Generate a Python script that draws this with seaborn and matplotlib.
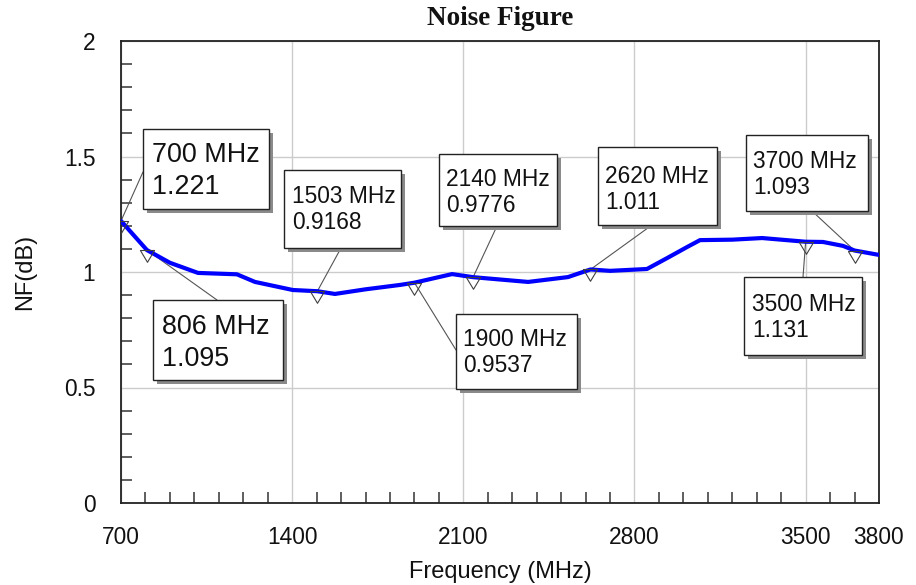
import matplotlib
matplotlib.use("Agg")
import matplotlib.pyplot as plt
import matplotlib.transforms as mtransforms
from matplotlib.patches import Rectangle
from matplotlib.path import Path
from matplotlib.ticker import MultipleLocator, FixedLocator
import seaborn as sns
import pandas as pd

# ---- data ----
freq_mhz = [700, 806, 900, 1015, 1174, 1248, 1403, 1503, 1575, 1700, 1841, 1900,
            2054, 2140, 2365, 2528, 2620, 2700, 2851, 2933, 3015, 3068, 3200,
            3322, 3500, 3571, 3653, 3700, 3800]
nf_db = [1.221, 1.095, 1.04, 0.996, 0.99, 0.957, 0.922, 0.9168, 0.905, 0.925,
         0.944, 0.9537, 0.991, 0.9776, 0.957, 0.978, 1.011, 1.005, 1.013, 1.06,
         1.108, 1.138, 1.14, 1.147, 1.131, 1.13, 1.113, 1.093, 1.074]

marker_freq = [700, 806, 1503, 1900, 2140, 2620, 3500, 3700]
marker_nf = [1.221, 1.095, 0.9168, 0.9537, 0.9776, 1.011, 1.131, 1.093]

x_tick_values = [700, 1400, 2100, 2800, 3500, 3800]
x_tick_labels = ["700", "1400", "2100", "2800", "3500", "3800"]
y_tick_values = [0, 0.5, 1, 1.5, 2]
y_tick_labels = ["0", "0.5", "1", "1.5", "2"]

title = "Noise Figure"
x_label = "Frequency (MHz)"
y_label = "NF(dB)"

# ---- layout (image pixel coords, y down) ----
W, H = 916, 585
# box: (left, top, right, bottom), text left, first cap top, big font?, leader end
boxes = [
    ((143, 129, 269, 209), 152, 143, True, (143, 172)),
    ((153, 300, 283, 380), 162, 315, True, (217, 300)),
    ((284, 170, 401, 248), 292, 187, False, (341, 248)),
    ((456, 314, 577, 389), 463, 330, False, (456, 350)),
    ((439, 154, 557, 226), 446, 170, False, (497, 226)),
    ((598, 147, 717, 225), 605, 167, False, (652, 225)),
    ((744, 277, 862, 355), 752, 295, False, (803, 277)),
    ((746, 135, 868, 211), 753, 152, False, (812, 211)),
]

sns.set_theme(style="white")
plt.rcParams["font.family"] = ["Liberation Sans", "DejaVu Sans"]

fig = plt.figure(figsize=(W / 100, H / 100), dpi=100)
ax = fig.add_axes([121 / W, 1 - 503 / H, (879 - 121) / W, (503 - 41) / H])

df = pd.DataFrame({"freq": freq_mhz, "nf": nf_db})
sns.lineplot(data=df, x="freq", y="nf", ax=ax, color="#0000ff", lw=3.0, zorder=3)

tri = Path([(-0.6, 0.0), (0.6, 0.0), (0.0, -1.0), (-0.6, 0.0)],
           [Path.MOVETO, Path.LINETO, Path.LINETO, Path.CLOSEPOLY])
ax.plot(marker_freq, marker_nf, ls="none", marker=tri, ms=17,
        mfc="none", mec="#404040", mew=0.8, zorder=4)

ax.set_xlim(700, 3800)
ax.set_ylim(0, 2)
ax.xaxis.set_major_locator(FixedLocator(x_tick_values))
ax.set_xticklabels(x_tick_labels)
ax.yaxis.set_major_locator(FixedLocator(y_tick_values))
ax.set_yticklabels(y_tick_labels)
ax.xaxis.set_minor_locator(MultipleLocator(100))
ax.yaxis.set_minor_locator(MultipleLocator(0.1))
ax.tick_params(which="both", bottom=True, left=True, top=False, right=False)
ax.tick_params(which="major", length=0, labelsize=16.4, labelcolor="#111111")
ax.tick_params(axis="x", which="major", pad=16.5)
ax.tick_params(axis="y", which="major", pad=18.5)
ax.tick_params(which="minor", direction="in", length=8, width=1.1, color="#333333")
ax.grid(True, which="major", color="#cccccc", lw=1.0)
ax.set_axisbelow(True)
for side in ["left", "bottom", "top", "right"]:
    ax.spines[side].set_color("#222222")
    ax.spines[side].set_linewidth(1.3)

ax.set_xlabel(x_label, fontsize=17, color="#111111", labelpad=8.5)
ax.set_ylabel(y_label, fontsize=17, color="#111111", labelpad=20)
ax.set_title(title, fontsize=19.5, fontweight="bold",
             family=["Liberation Serif", "DejaVu Serif"], pad=11.5, color="#111111")

T = mtransforms.Affine2D().scale(1, -1).translate(0, H)

for (f, v, (bx, tx, cap_top, big, lend)) in zip(marker_freq, marker_nf, boxes):
    l, t, r, b = bx
    ax.annotate("", xy=(f, v), xycoords="data", xytext=lend, textcoords=T,
                arrowprops=dict(arrowstyle="-", color="#555555", lw=0.8,
                                shrinkA=0, shrinkB=0), zorder=2)
    fig.add_artist(Rectangle((l + 4, t + 4), r - l, b - t, transform=T,
                             facecolor="#8a8a8a", edgecolor="none", zorder=5))
    fig.add_artist(Rectangle((l, t), r - l, b - t, transform=T,
                             facecolor="white", edgecolor="#222222", lw=1.0, zorder=6))
    fs = 19.4 if big else 16.4
    em = fs / 0.72
    cap = 0.716 * em
    pitch = 32 if big else 25.5
    lines = [f"{f} MHz", f"{v}"]
    for i, s in enumerate(lines):
        fig.text(tx, cap_top + cap + i * pitch, s, transform=T, fontsize=fs,
                 ha="left", va="baseline", color="#111111", zorder=7)

fig.savefig("out.png", dpi=100)
